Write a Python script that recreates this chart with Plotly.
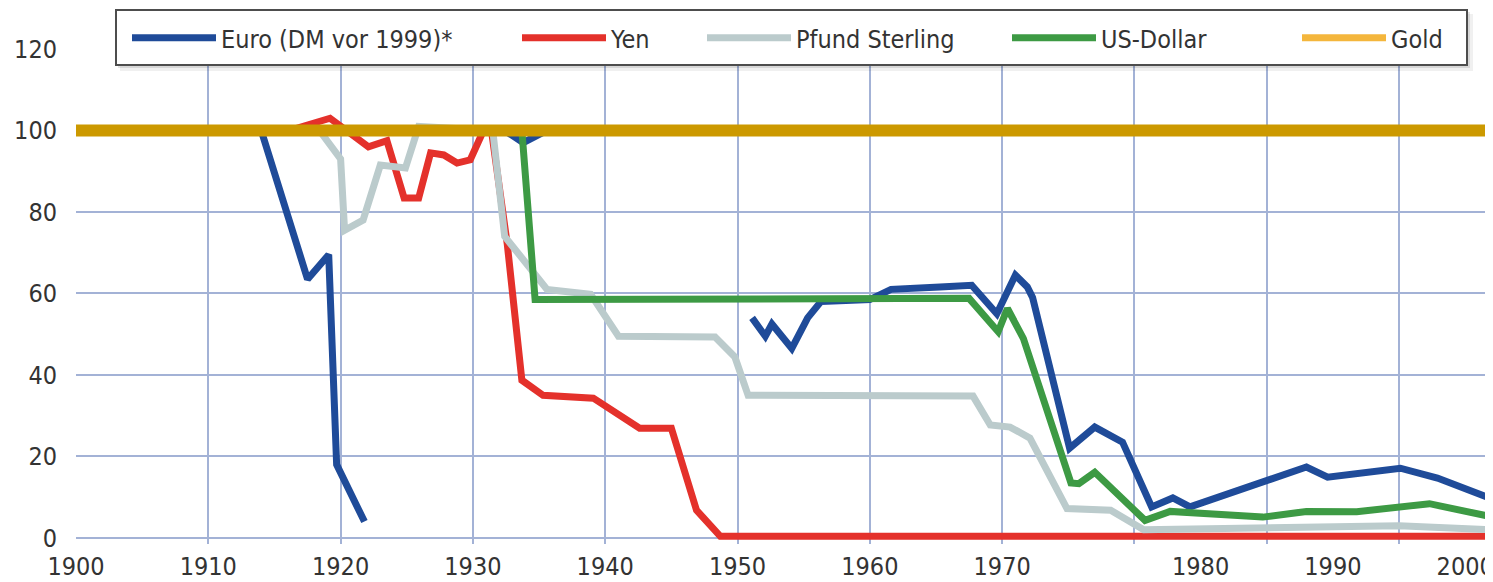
import plotly.graph_objects as go

euro_years = [1914, 1917.5, 1919.1, 1919.7, 1921.8, None,
              1931.0, 1932.4, 1933.8, 1935.6, None,
              1951.1, 1952.1, 1952.6, 1954.1, 1955.3, 1956.3, 1960.0, 1961.6, 1965.3,
              1967.7, 1969.6, 1971.0, 1971.9, 1972.3, 1975.1, 1977.0, 1979.1, 1980.4,
              1981.3, 1982.9, 1984.2, 1993.0, 1994.6, 2000.1, 2002.9, 2007.1]
euro_values = [100, 63.5, 69.5, 18, 4, None,
               100, 100, 97, 100, None,
               54, 49.5, 52.5, 46.5, 54, 58, 58.5, 61, 61.6,
               62, 55, 64.5, 61.6, 59, 22, 27.2, 23.5, 14,
               7.6, 9.8, 7.6, 17.4, 14.9, 17.1, 14.7, 9.5]

yen_years = [1914, 1915.6, 1919.2, 1922.1, 1923.5, 1924.8, 1925.9, 1926.8, 1927.8,
             1928.8, 1929.8, 1930.8, 1931.4, 1932.6, 1933.7, 1935.3, 1939.1, 1942.6,
             1945.0, 1946.9, 1948.7, 2007.1]
yen_values = [100, 99.5, 103, 96, 97.5, 83.4, 83.4, 94.5, 94,
              92, 92.8, 100, 100, 72, 38.7, 35, 34.3, 26.9,
              26.9, 6.8, 0.4, 0.4]

gbp_years = [1917.5, 1918.4, 1920.0, 1920.3, 1921.7, 1923.0, 1924.9, 1925.9, 1931.5,
             1932.4, 1935.6, 1938.9, 1941.0, 1948.3, 1949.8, 1950.8, 1967.8, 1969.1,
             1970.6, 1972.1, 1974.9, 1978.2, 1980.7, 2000.0, 2007.1]
gbp_values = [100, 100, 93, 75.5, 78, 91.5, 90.8, 101, 100,
              74, 61, 59.8, 49.5, 49.3, 44.4, 35, 34.8, 27.7,
              27.2, 24.5, 7.2, 6.8, 2, 3, 2]

usd_years = [1900, 1933.7, 1934.7, 1967.5, 1969.7, 1970.4, 1971.6, 1975.2, 1975.8,
             1977.0, 1980.8, 1982.7, 1989.7, 1993.0, 1996.8, 2000.1, 2002.3, 2007.1]
usd_values = [100, 100, 58.5, 58.8, 50.6, 56.3, 49, 13.5, 13.3,
              16.1, 4.3, 6.5, 5.1, 6.5, 6.4, 7.6, 8.4, 5.1]

gold_years = [1900, 2007.1]
gold_values = [100, 100]

grid_years = list(range(1900, 2001, 10))
label_positions = [1900, 1910, 1920, 1930, 1940, 1950, 1960, 1970, 1985, 1995, 2005]
label_texts = ["1900", "1910", "1920", "1930", "1940", "1950", "1960", "1970",
               "1980", "1990", "2000"]
y_ticks = [0, 20, 40, 60, 80, 100, 120]

FONT = "DejaVu Sans Condensed, DejaVu Sans, sans-serif"
TXT = "#333333"
FS = 25
LW = 7

# The page body has an 8 px default margin, so the figure is drawn 8 px smaller
# and all screen-pixel positions below are shifted by that offset.
OFF = 8
W, H = 1493 - OFF, 582 - OFF
L, T, B = 76 - OFF, 49 - OFF, 38
PW = W - L
PH = H - T - B


def px_x(px):
    return (px - OFF - L) / PW


def px_y(py):
    return (H - B - (py - OFF)) / PH


fig = go.Figure()
fig.add_trace(go.Scatter(x=euro_years, y=euro_values, mode="lines",
                         name="Euro (DM vor 1999)*", legend="legend",
                         line=dict(color="#1F4B99", width=LW)))
fig.add_trace(go.Scatter(x=yen_years, y=yen_values, mode="lines", name="Yen",
                         legend="legend2", line=dict(color="#E4312B", width=LW)))
fig.add_trace(go.Scatter(x=gbp_years, y=gbp_values, mode="lines", name="Pfund Sterling",
                         legend="legend3", line=dict(color="#BBCBCC", width=LW)))
fig.add_trace(go.Scatter(x=usd_years, y=usd_values, mode="lines", name="US-Dollar",
                         legend="legend4", line=dict(color="#3D9A44", width=LW)))
fig.add_trace(go.Scatter(x=gold_years, y=gold_values, mode="lines", name="Gold",
                         showlegend=False, line=dict(color="#CC9900", width=12)))
fig.add_trace(go.Scatter(x=[None], y=[None], mode="lines", name="Gold", xaxis="x2",
                         legend="legend5", line=dict(color="#F4B63C", width=LW)))


def leg(px_start):
    return dict(orientation="h", x=px_x(px_start - 5), y=px_y(38),
                xanchor="left", yanchor="middle",
                bgcolor="rgba(0,0,0,0)", borderwidth=0,
                font=dict(family=FONT, size=FS, color=TXT), itemwidth=84)


def box(x0, x1, y0, y1, fill, line_color, line_width):
    return dict(type="rect", xref="paper", yref="paper",
                x0=px_x(x0), x1=px_x(x1), y0=px_y(y1), y1=px_y(y0),
                fillcolor=fill, line=dict(color=line_color, width=line_width),
                layer="above")


fig.update_layout(
    width=W, height=H,
    margin=dict(l=L, r=0, t=T, b=B, autoexpand=False),
    plot_bgcolor="white", paper_bgcolor="white",
    font=dict(family=FONT, size=FS, color=TXT),
    showlegend=True,
    legend=leg(132), legend2=leg(522), legend3=leg(707), legend4=leg(1012),
    legend5=leg(1302),
    shapes=[box(120, 1473, 14, 71, "rgba(0,0,0,0.06)", "rgba(0,0,0,0)", 0),
            box(118, 1470, 12, 68, "rgba(0,0,0,0.10)", "rgba(0,0,0,0)", 0),
            box(116, 1467, 10, 65, "white", "#4d4d4d", 2)],
    xaxis=dict(range=[1900, 2007.1], tickmode="array", tickvals=grid_years,
               showticklabels=False, showgrid=True, gridcolor="#A3B2D6", gridwidth=1.8,
               zeroline=False, showline=False, ticks=""),
    xaxis2=dict(range=[1900, 2007.1], overlaying="x", anchor="y", side="bottom",
                tickmode="array", tickvals=label_positions, ticktext=label_texts,
                showgrid=False, zeroline=False, showline=False, ticks="",
                ticklabelstandoff=5, ticklabeloverflow="allow",
                tickfont=dict(family=FONT, size=FS, color=TXT)),
    yaxis=dict(range=[-1.5, 120], tickmode="array", tickvals=y_ticks,
               showgrid=True, gridcolor="#A3B2D6", gridwidth=1.8, zeroline=False,
               showline=False, ticks="", ticklabelstandoff=18,
               tickfont=dict(family=FONT, size=FS, color=TXT)),
)

fig.write_html("out.html")
